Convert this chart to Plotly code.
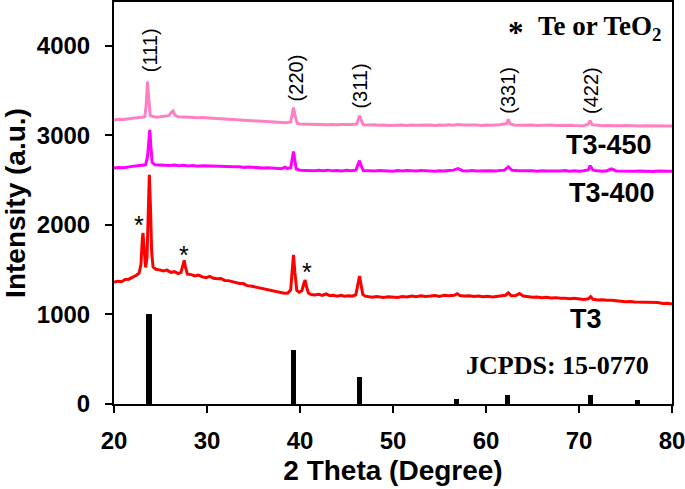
import plotly.graph_objects as go

# ---- data ----
t3_x = [20.0, 20.4, 20.8, 21.2, 21.6, 22.0, 22.4, 22.7, 22.9, 23.05, 23.12, 23.25, 23.4, 23.55, 23.68, 23.8,
        23.92, 24.05, 24.2, 24.5, 24.9, 25.3, 25.7, 26.1, 26.5, 26.9, 27.2, 27.4, 27.55, 27.7, 27.9, 28.3,
        28.7, 29.1, 29.5, 29.9, 30.3, 30.7, 31.1, 31.5, 31.9, 32.3, 32.7, 33.1, 33.5, 33.9, 34.3, 34.7,
        35.1, 35.5, 35.9, 36.3, 36.7, 37.1, 37.5, 37.9, 38.3, 38.7, 39.0, 39.15, 39.3, 39.45, 39.65, 39.9,
        40.2, 40.4, 40.55, 40.7, 40.9, 41.2, 41.6, 42.0, 42.4, 42.8, 43.2, 43.6, 44.0, 44.4, 44.8, 45.2,
        45.6, 46.0, 46.2, 46.4, 46.55, 46.75, 47.0, 47.4, 47.8, 48.2, 48.6, 49.0, 49.5, 50.0, 50.5, 51.0,
        51.5, 52.0, 52.5, 53.0, 53.5, 54.0, 54.5, 55.0, 55.5, 56.0, 56.6, 56.9, 57.2, 57.7, 58.2, 58.7,
        59.2, 59.7, 60.2, 60.7, 61.2, 61.7, 62.1, 62.4, 62.7, 63.2, 63.6, 64.0, 64.5, 65.0, 65.5, 66.0,
        66.5, 67.0, 67.5, 68.0, 68.5, 69.0, 69.5, 70.0, 70.5, 71.0, 71.25, 71.5, 72.0, 72.5, 73.0, 73.5,
        74.0, 74.5, 75.0, 75.5, 76.0, 76.5, 77.0, 77.5, 78.0, 78.5, 79.0, 79.5, 80.0]
t3_y = [1360, 1372, 1366, 1390, 1394, 1412, 1438, 1462, 1560, 1850, 1910, 1720, 1525, 1640, 2250, 2560,
        2200, 1700, 1530, 1505, 1498, 1486, 1495, 1470, 1478, 1456, 1470, 1540, 1605, 1520, 1450, 1445,
        1430, 1440, 1420, 1410, 1425, 1404, 1398, 1402, 1380, 1378, 1366, 1362, 1346, 1345, 1322, 1318,
        1308, 1305, 1288, 1282, 1270, 1262, 1250, 1242, 1236, 1240, 1275, 1480, 1665, 1470, 1270, 1248,
        1265, 1340, 1385, 1310, 1240, 1222, 1218, 1226, 1212, 1230, 1210, 1215, 1205, 1213, 1203, 1210,
        1205, 1220, 1320, 1430, 1340, 1225, 1205, 1198, 1192, 1200, 1195, 1190, 1198, 1195, 1190, 1200,
        1196, 1205, 1198, 1210, 1202, 1206, 1212, 1200, 1215, 1208, 1215, 1232, 1212, 1205, 1210, 1200,
        1206, 1198, 1204, 1196, 1200, 1205, 1215, 1242, 1210, 1212, 1235, 1205, 1198, 1192, 1196, 1188,
        1192, 1185, 1188, 1180, 1182, 1176, 1180, 1172, 1168, 1175, 1200, 1170, 1162, 1165, 1158, 1160,
        1150, 1148, 1142, 1145, 1138, 1136, 1140, 1132, 1128, 1134, 1122, 1125, 1117]

t3_400_x = [20.0, 20.5, 21.0, 21.5, 22.0, 22.5, 23.0, 23.4, 23.6, 23.75, 23.85, 23.95, 24.1, 24.4, 25.0, 25.5,
            26.0, 26.5, 27.0, 27.5, 28.0, 28.5, 29.0, 29.5, 30.0, 30.5, 31.0, 31.5, 32.0, 32.5, 33.0, 33.5,
            34.0, 34.5, 35.0, 35.5, 36.0, 36.5, 37.0, 37.5, 38.0, 38.4, 38.6, 39.0, 39.15, 39.3, 39.45, 39.6,
            40.0, 40.5, 41.0, 41.5, 42.0, 42.5, 43.0, 43.5, 44.0, 44.5, 45.0, 45.5, 46.0, 46.25, 46.4, 46.55,
            46.8, 47.5, 48.0, 48.5, 49.0, 49.5, 50.0, 50.5, 51.0, 51.5, 52.0, 52.5, 53.0, 53.5, 54.0, 54.5,
            55.0, 55.5, 56.0, 56.5, 57.0, 57.5, 58.0, 58.5, 59.0, 59.5, 60.0, 60.5, 61.0, 61.5, 62.0, 62.4,
            62.8, 63.5, 64.0, 64.5, 65.0, 65.5, 66.0, 66.5, 67.0, 67.5, 68.0, 68.5, 69.0, 69.5, 70.0, 70.5,
            71.0, 71.2, 71.5, 72.0, 72.5, 73.0, 73.5, 74.0, 74.5, 75.0, 75.5, 76.0, 76.5, 77.0, 77.5, 78.0,
            78.5, 79.0, 79.5, 80.0]
t3_400_y = [2635, 2641, 2638, 2650, 2654, 2662, 2666, 2672, 2760, 3000, 3061, 2900, 2700, 2672, 2668, 2672,
            2664, 2669, 2660, 2666, 2659, 2663, 2656, 2662, 2660, 2653, 2658, 2650, 2655, 2648, 2649, 2651,
            2643, 2647, 2641, 2640, 2636, 2638, 2633, 2634, 2628, 2645, 2632, 2640, 2740, 2820, 2720, 2625,
            2612, 2609, 2611, 2605, 2610, 2606, 2612, 2604, 2608, 2603, 2610, 2605, 2612, 2670, 2718, 2665,
            2608, 2605, 2602, 2608, 2603, 2606, 2601, 2607, 2603, 2609, 2604, 2602, 2608, 2603, 2605, 2600,
            2606, 2602, 2608, 2612, 2630, 2606, 2602, 2607, 2603, 2605, 2600, 2606, 2602, 2608, 2612, 2650,
            2610, 2604, 2607, 2602, 2605, 2600, 2606, 2603, 2600, 2605, 2602, 2607, 2601, 2604, 2600, 2606,
            2615, 2662, 2612, 2604, 2600, 2606, 2625, 2603, 2600, 2604, 2601, 2599, 2603, 2600, 2604, 2598,
            2602, 2599, 2603, 2600]

t3_450_x = [20.0, 20.5, 21.0, 21.5, 22.0, 22.5, 23.0, 23.3, 23.45, 23.6, 23.75, 23.9, 24.2, 24.6, 25.0, 25.5,
            25.9, 26.2, 26.35, 26.55, 26.9, 27.5, 28.0, 28.5, 29.0, 29.5, 30.0, 30.5, 31.0, 31.5, 32.0, 32.5,
            33.0, 33.5, 34.0, 34.5, 35.0, 35.5, 36.0, 36.5, 37.0, 37.5, 38.0, 38.5, 39.0, 39.15, 39.3, 39.45,
            39.7, 40.0, 40.5, 41.0, 41.5, 42.0, 42.5, 43.0, 43.5, 44.0, 44.5, 45.0, 45.5, 46.1, 46.3, 46.4,
            46.55, 46.8, 47.5, 48.0, 48.5, 49.0, 49.5, 50.0, 50.5, 51.0, 51.5, 52.0, 52.5, 53.0, 53.5, 54.0,
            54.5, 55.0, 55.5, 56.0, 56.5, 57.0, 57.5, 58.0, 58.5, 59.0, 59.5, 60.0, 60.5, 61.0, 61.5, 62.2,
            62.4, 62.6, 63.0, 63.5, 64.0, 64.5, 65.0, 65.5, 66.0, 66.5, 67.0, 67.5, 68.0, 68.5, 69.0, 69.5,
            70.0, 70.5, 71.0, 71.2, 71.4, 72.0, 72.5, 73.0, 73.5, 74.0, 74.5, 75.0, 75.5, 76.0, 76.5, 77.0,
            77.5, 78.0, 78.5, 79.0, 79.5, 80.0]
t3_450_y = [3172, 3181, 3177, 3188, 3191, 3197, 3199, 3206, 3320, 3601, 3400, 3222, 3211, 3204, 3208, 3212,
            3220, 3262, 3274, 3226, 3208, 3205, 3201, 3204, 3198, 3201, 3195, 3193, 3190, 3186, 3183, 3180,
            3176, 3174, 3170, 3171, 3165, 3162, 3158, 3157, 3150, 3148, 3143, 3141, 3150, 3240, 3311, 3230,
            3135, 3128, 3126, 3124, 3127, 3121, 3124, 3120, 3123, 3118, 3122, 3119, 3121, 3126, 3200, 3221,
            3180, 3118, 3116, 3119, 3113, 3117, 3112, 3115, 3110, 3116, 3112, 3117, 3113, 3116, 3111, 3115,
            3112, 3117, 3113, 3118, 3114, 3121, 3115, 3118, 3113, 3116, 3112, 3117, 3113, 3116, 3120, 3132,
            3180, 3128, 3117, 3114, 3116, 3112, 3115, 3110, 3114, 3111, 3115, 3110, 3113, 3109, 3113, 3110,
            3112, 3109, 3125, 3165, 3120, 3112, 3108, 3112, 3109, 3111, 3107, 3110, 3106, 3109, 3105, 3108,
            3106, 3109, 3105, 3108, 3104, 3106]

jcpds_x = [23.76, 39.31, 46.43, 56.82, 62.35, 71.21, 76.30]
jcpds_y = [1000, 600, 300, 60, 100, 100, 40]

hkl_labels = ["(111)", "(220)", "(311)", "(331)", "(422)"]
hkl_x = [23.96, 39.6, 46.5, 62.37, 71.27]
hkl_y = [3950, 3640, 3550, 3500, 3505]

star_x = [22.72, 27.56, 40.72]
star_y = [2000, 1665, 1475]

x_ticks = [20, 30, 40, 50, 60, 70, 80]
y_ticks = [0, 1000, 2000, 3000, 4000]

SANS = "Liberation Sans, Arial, sans-serif"
SERIF = "Liberation Serif, Times New Roman, serif"

fig = go.Figure()
fig.add_trace(go.Bar(x=jcpds_x, y=jcpds_y, width=0.55, marker=dict(color="black", line=dict(width=0)),
                     name="JCPDS: 15-0770"))
fig.add_trace(go.Scatter(x=t3_x, y=t3_y, mode="lines", line=dict(color="#FF0000", width=3), name="T3"))
fig.add_trace(go.Scatter(x=t3_400_x, y=t3_400_y, mode="lines", line=dict(color="#FF00FF", width=3),
                         name="T3-400"))
fig.add_trace(go.Scatter(x=t3_450_x, y=t3_450_y, mode="lines", line=dict(color="#FF80C0", width=3),
                         name="T3-450"))

ann = []
for lab, xx, yy in zip(hkl_labels, hkl_x, hkl_y):
    ann.append(dict(x=xx, y=yy, text=lab, textangle=-90, showarrow=False,
                    font=dict(family=SANS, size=20, color="black"), xanchor="center", yanchor="middle"))
for xx, yy in zip(star_x, star_y):
    ann.append(dict(x=xx, y=yy, text="*", showarrow=False,
                    font=dict(family=SANS, size=25, color="black"), xanchor="center", yanchor="middle"))
ann.append(dict(x=73.2, y=2894, text="<b>T3-450</b>", showarrow=False,
                font=dict(family=SANS, size=27, color="black"), xanchor="center", yanchor="middle"))
ann.append(dict(x=73.5, y=2358, text="<b>T3-400</b>", showarrow=False,
                font=dict(family=SANS, size=27, color="black"), xanchor="center", yanchor="middle"))
ann.append(dict(x=70.75, y=950, text="<b>T3</b>", showarrow=False,
                font=dict(family=SANS, size=27, color="black"), xanchor="center", yanchor="middle"))
ann.append(dict(x=67.74, y=425, text="<b>JCPDS: 15-0770</b>", showarrow=False,
                font=dict(family=SERIF, size=26, color="black"), xanchor="center", yanchor="middle"))
ann.append(dict(x=63.25, y=4150, text="<b>*</b>", showarrow=False,
                font=dict(family=SERIF, size=31, color="black"), xanchor="center", yanchor="middle"))
ann.append(dict(x=79.1, y=4200, text="<b>Te or TeO<sub>2</sub></b>", showarrow=False,
                font=dict(family=SERIF, size=27, color="black"), xanchor="right", yanchor="middle"))

fig.update_layout(
    width=685, height=489,
    margin=dict(l=114, r=13, t=2, b=85),
    paper_bgcolor="white", plot_bgcolor="white",
    showlegend=False,
    bargap=0,
    annotations=ann,
    xaxis=dict(range=[20, 80], tickvals=x_ticks, ticks="outside", ticklen=7, tickwidth=2, tickcolor="black",
               showline=True, linewidth=2, linecolor="black", mirror=True, showgrid=False, zeroline=False,
               automargin=False, ticklabeloverflow="allow", ticklabelstandoff=7,
               tickfont=dict(family=SANS, size=24, color="black", weight="bold"),
               title=dict(text="2 Theta (Degree)", font=dict(family=SANS, size=28, color="black", weight="bold"),
                          standoff=8)),
    yaxis=dict(range=[0, 4490], tickvals=y_ticks, ticks="outside", ticklen=7, tickwidth=2, tickcolor="black",
               showline=True, linewidth=2, linecolor="black", mirror=True, showgrid=False, zeroline=False,
               automargin=False, ticklabelstandoff=10, ticklabeloverflow="allow",
               tickfont=dict(family=SANS, size=24, color="black", weight="bold"),
               title=dict(text="Intensity (a.u.)", font=dict(family=SANS, size=28, color="black", weight="bold"),
                          standoff=4)),
)

fig.write_html("out.html", config={"displayModeBar": False},
               post_script="document.body.style.margin='0';")
